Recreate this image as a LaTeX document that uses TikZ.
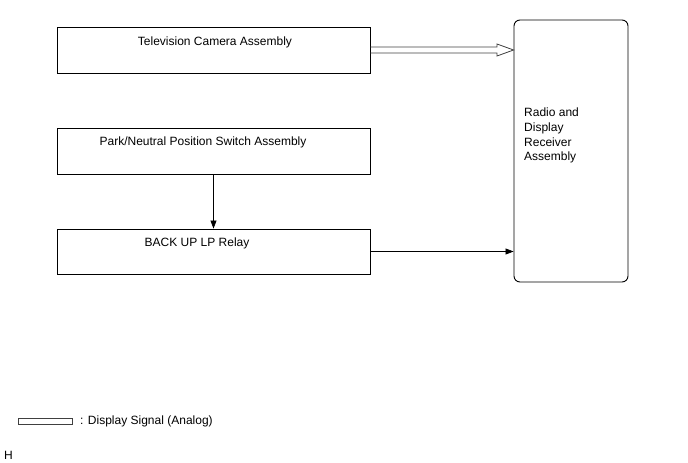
\documentclass[tikz,border=0pt]{standalone}
\usepackage{fontspec}
\setmainfont{Liberation Sans}
\usetikzlibrary{arrows.meta}
\begin{document}
\begin{tikzpicture}[x=1pt,y=-1pt,
  box/.style={draw,line width=0.9pt,inner sep=0pt,minimum width=313pt,minimum height=46pt},
  lbl/.style={font=\fontsize{12}{14.5}\selectfont,inner sep=0pt,anchor=base},
  conn/.style={line width=0.7pt,-{Triangle[length=8pt,width=6pt]}}]
\useasboundingbox (0,0) rectangle (688,463);
\node[box] (tvb) at (213.5,50) {};
\node[lbl] (tv) at (215,45.5) {Television Camera Assembly};
\node[box] (pnb) at (213.5,151) {};
\node[lbl] (pn) at (203,145.5) {Park/Neutral Position Switch Assembly};
\node[box,minimum height=45pt] (bub) at (213.5,251.5) {};
\node[lbl] (bu) at (197,246.5) {BACK UP LP Relay};
\node[draw,line width=0.9pt,rounded corners=6pt,minimum width=114pt,minimum height=262pt,inner sep=0pt] (rdb) at (571,151) {};
\node[font=\fontsize{12}{14.6}\selectfont,inner sep=0pt,anchor=north west,align=left] (rd) at (524,108) {Radio and\\Display\\Receiver\\Assembly};
\draw[conn] (pnb.south) -- (bub.north);
\draw[conn] (bub.east) -- (bub.east -| rdb.west);
% double arrow
\coordinate (tip) at (rdb.west |- 0,50);
\draw[line width=0.8pt,black!75,line join=miter] (tvb.east |- 0,47) -- (497,47) -- (497,44) -- (tip) -- (497,56) -- (497,53) -- (tvb.east |- 0,53);
% legend
\node[draw,line width=0.8pt,black!75,minimum width=54pt,minimum height=6pt,inner sep=0pt] (lgbox) at (45,421) {};
\node[lbl,anchor=base west] (lg) at (80,424.5) {: Display Signal (Analog)};
\node[lbl,anchor=base west] (h) at (4,459.5) {H};
\end{tikzpicture}
\end{document}
